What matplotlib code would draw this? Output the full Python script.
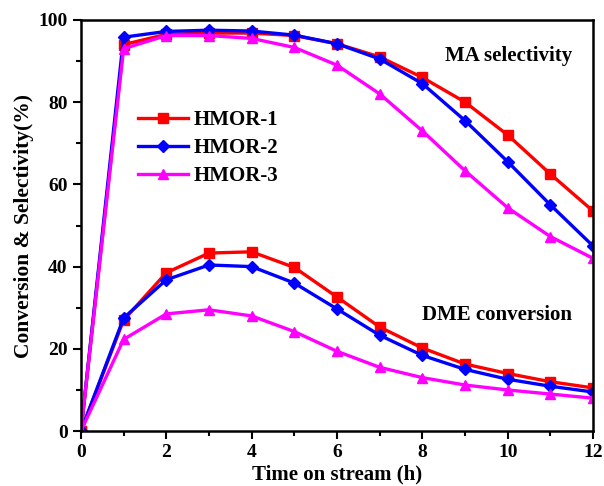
import matplotlib.pyplot as plt
from matplotlib.ticker import MultipleLocator

plt.rcParams['font.family'] = ['Liberation Serif', 'DejaVu Serif']
plt.rcParams['font.weight'] = 'bold'

hours = [0, 1, 2, 3, 4, 5, 6, 7, 8, 9, 10, 11, 12]

# MA selectivity (%)
sel_1 = [0, 94.0, 96.5, 96.8, 96.8, 96.2, 94.2, 91.0, 86.0, 80.0, 72.0, 62.5, 53.5]
sel_2 = [0, 95.8, 97.2, 97.5, 97.3, 96.3, 94.2, 90.5, 84.5, 75.5, 65.5, 55.0, 45.0]
sel_3 = [0, 93.0, 96.2, 96.2, 95.5, 93.3, 89.0, 82.0, 73.0, 63.3, 54.3, 47.3, 42.0]

# DME conversion (%)
conv_1 = [0, 27.0, 38.5, 43.3, 43.6, 39.8, 32.6, 25.3, 20.2, 16.3, 14.0, 12.0, 10.5]
conv_2 = [0, 27.5, 36.8, 40.4, 40.0, 36.0, 29.7, 23.3, 18.4, 15.0, 12.6, 10.9, 9.5]
conv_3 = [0, 22.3, 28.5, 29.5, 28.0, 24.2, 19.4, 15.5, 13.0, 11.2, 10.0, 9.0, 8.0]

labels = ["HMOR-1", "HMOR-2", "HMOR-3"]
colors = ["#ff0000", "#0000ff", "#ff00ff"]
markers = ["s", "D", "^"]
msizes = [6.5, 6.5, 7.5]

fig = plt.figure(figsize=(6.04, 4.86), dpi=100)
ax = fig.add_axes([0.134, 0.113, 0.848, 0.846])

for sel, conv, lab, c, m, ms in zip([sel_1, sel_2, sel_3], [conv_1, conv_2, conv_3],
                                    labels, colors, markers, msizes):
    ax.plot(hours, sel, color=c, marker=m, ms=ms, lw=2.4, label=lab)
    ax.plot(hours, conv, color=c, marker=m, ms=ms, lw=2.4)

ax.set_xlim(0, 12)
ax.set_ylim(0, 100)
ax.xaxis.set_major_locator(MultipleLocator(2))
ax.xaxis.set_minor_locator(MultipleLocator(1))
ax.yaxis.set_major_locator(MultipleLocator(20))
ax.yaxis.set_minor_locator(MultipleLocator(10))
ax.tick_params(which='major', length=5.5, width=1.5, labelsize=14, pad=4,
               direction='out')
ax.tick_params(which='minor', length=3.5, width=1.5, direction='out')
for sp in ax.spines.values():
    sp.set_linewidth(1.8)

ax.set_xlabel("Time on stream (h)", fontsize=15, fontweight='bold', labelpad=2)
ax.set_ylabel("Conversion & Selectivity(%)", fontsize=15.5, fontweight='bold',
              labelpad=3)

ax.text(0.959, 0.90, "MA selectivity", transform=ax.transAxes, ha='right',
        fontsize=15, fontweight='bold')
ax.text(0.959, 0.27, "DME conversion", transform=ax.transAxes, ha='right',
        fontsize=15, fontweight='bold')

ax.legend(loc='upper left', bbox_to_anchor=(0.096, 0.80), frameon=False,
          fontsize=15, handlelength=2.4, labelspacing=0.38, borderaxespad=0,
          handletextpad=0.25)

fig.savefig("out.png", dpi=100)
